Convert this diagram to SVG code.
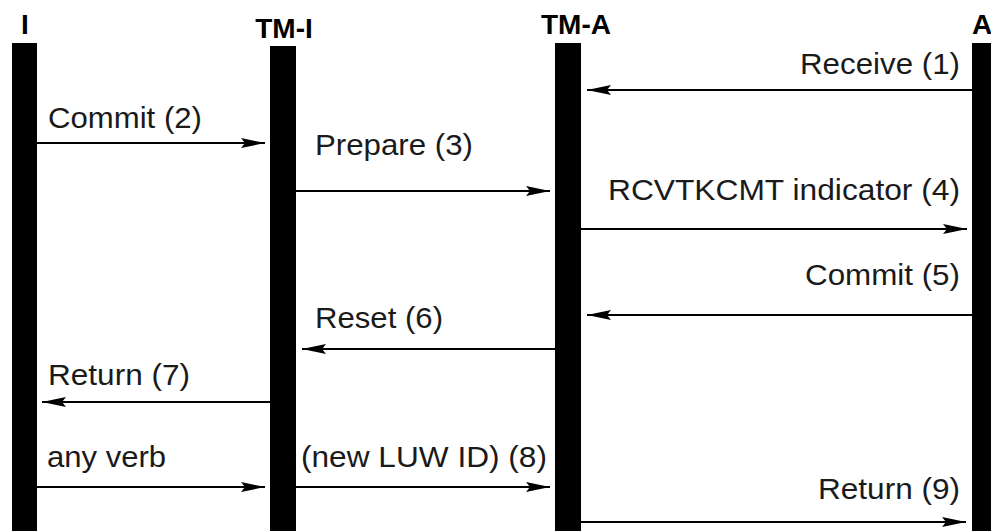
<svg xmlns="http://www.w3.org/2000/svg" width="991" height="531" viewBox="0 0 991 531">
<style>
.life{fill:#000}
.hdr{font-family:"Liberation Sans",Arial,sans-serif;font-weight:bold;font-size:28px;fill:#000}
.lbl{font-family:"Liberation Sans",Arial,sans-serif;font-size:30px;fill:#1a1a1a}
.r{text-anchor:end}
.msg{stroke:#000;stroke-width:2;fill:none;marker-end:url(#ah)}
</style>
<defs>
<marker id="ah" viewBox="0 0 24 10" refX="24" refY="5" markerWidth="24" markerHeight="10" markerUnits="userSpaceOnUse" orient="auto">
<path d="M0,0 L24,5 L0,10 L4,5 Z" fill="#000"/>
</marker>
</defs>
<rect width="991" height="531" fill="#fff"/>
<g id="node-I"><rect class="life" x="12" y="43" width="25" height="488"/><text class="hdr" x="25" y="34" text-anchor="middle">I</text></g>
<g id="node-TM-I"><rect class="life" x="270" y="46" width="26" height="485"/><text class="hdr" x="284" y="38" text-anchor="middle">TM-I</text></g>
<g id="node-TM-A"><rect class="life" x="555" y="43" width="26" height="488"/><text class="hdr" x="576" y="34" text-anchor="middle">TM-A</text></g>
<g id="node-A"><rect class="life" x="972" y="43" width="19" height="488"/><text class="hdr" x="972" y="34">A</text></g>
<g id="connectors">
<line class="msg" x1="972" y1="90" x2="587" y2="90"/>
<line class="msg" x1="37" y1="143" x2="265" y2="143"/>
<line class="msg" x1="296" y1="191" x2="550" y2="191"/>
<line class="msg" x1="581" y1="229" x2="967" y2="229"/>
<line class="msg" x1="972" y1="315" x2="587" y2="315"/>
<line class="msg" x1="555" y1="349" x2="302" y2="349"/>
<line class="msg" x1="270" y1="402" x2="42" y2="402"/>
<line class="msg" x1="37" y1="487" x2="265" y2="487"/>
<line class="msg" x1="296" y1="487" x2="550" y2="487"/>
<line class="msg" x1="581" y1="522" x2="966" y2="522"/>
</g>
<g id="labels" lengthAdjust="spacingAndGlyphs">
<text class="lbl r" x="960" y="74" textLength="160" lengthAdjust="spacingAndGlyphs">Receive (1)</text>
<text class="lbl" x="48" y="128" textLength="154" lengthAdjust="spacingAndGlyphs">Commit (2)</text>
<text class="lbl" x="315" y="155" textLength="158" lengthAdjust="spacingAndGlyphs">Prepare (3)</text>
<text class="lbl r" x="960" y="200" textLength="352" lengthAdjust="spacingAndGlyphs">RCVTKCMT indicator (4)</text>
<text class="lbl r" x="960" y="285" textLength="155" lengthAdjust="spacingAndGlyphs">Commit (5)</text>
<text class="lbl" x="315" y="328" textLength="128" lengthAdjust="spacingAndGlyphs">Reset (6)</text>
<text class="lbl" x="48" y="385" textLength="142" lengthAdjust="spacingAndGlyphs">Return (7)</text>
<text class="lbl" x="47" y="467" textLength="119" lengthAdjust="spacingAndGlyphs">any verb</text>
<text class="lbl" x="301" y="467" textLength="246" lengthAdjust="spacingAndGlyphs">(new LUW ID) (8)</text>
<text class="lbl r" x="960" y="499" textLength="142" lengthAdjust="spacingAndGlyphs">Return (9)</text>
</g>
</svg>
